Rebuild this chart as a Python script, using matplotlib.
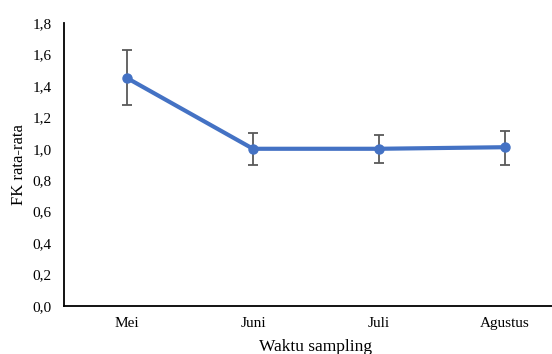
import matplotlib.pyplot as plt
from matplotlib.ticker import FuncFormatter, MultipleLocator

# data
months = ['Mei', 'Juni', 'Juli', 'Agustus']
fk_mean = [1.45, 1.00, 1.00, 1.01]
err_low = [0.17, 0.10, 0.09, 0.11]
err_high = [0.18, 0.10, 0.085, 0.10]

plt.rcParams['font.family'] = ['Liberation Serif', 'DejaVu Serif']

fig = plt.figure(figsize=(5.52, 3.54), dpi=100)
# axes runs past the right edge, like the cropped original
ax = fig.add_axes([64 / 552, 48 / 354, 504 / 552, 283 / 354])

x = [i + 0.5 for i in range(len(months))]
ax.errorbar(x, fk_mean, yerr=[err_low, err_high], fmt='none',
            ecolor='#595959', elinewidth=1.3, capsize=3.5, capthick=1.3, zorder=2)
ax.plot(x, fk_mean, color='#4472C4', linewidth=3.0, marker='o',
        markersize=6.5, zorder=3)

ax.set_xlim(0, len(months))
ax.set_ylim(0, 1.8)
ax.set_xticks(x)
ax.set_xticklabels(months)
ax.yaxis.set_major_locator(MultipleLocator(0.2))
ax.yaxis.set_major_formatter(FuncFormatter(lambda v, p: f'{v:.1f}'.replace('.', ',')))
ax.tick_params(length=0, labelsize=11, pad=9)
ax.tick_params(axis='x', pad=8)

for s in ['top', 'right']:
    ax.spines[s].set_visible(False)
for s in ['left', 'bottom']:
    ax.spines[s].set_linewidth(1.3)

ax.set_ylabel('FK rata-rata', fontsize=12)
ax.yaxis.set_label_coords(-37 / 504, 0.5)
ax.set_xlabel('Waktu sampling', fontsize=12.5)
ax.xaxis.set_label_coords(252 / 504, -33 / 283)

fig.savefig('out.png', dpi=100)
